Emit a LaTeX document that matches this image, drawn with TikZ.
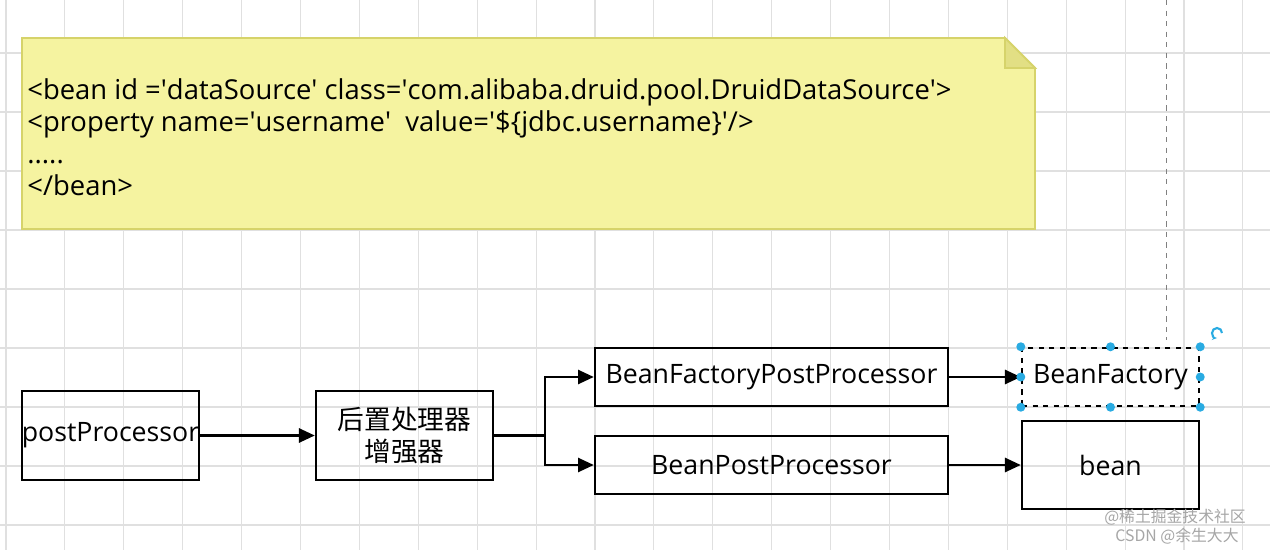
\documentclass[tikz,border=0pt]{standalone}
\usepackage{fontspec}
\setmainfont{Open Sans}
\newfontfamily\cjk{Noto Sans CJK SC}
\usetikzlibrary{arrows.meta}
\definecolor{notefill}{HTML}{F5F3A0}
\definecolor{notefold}{HTML}{E2DF84}
\definecolor{noteline}{HTML}{D6D36A}
\definecolor{gridcol}{HTML}{E0E0E0}
\definecolor{handleblue}{HTML}{29ABE2}
\newcommand\sq{\textquotesingle}

\begin{document}
\begin{tikzpicture}[x=0.02cm,y=-0.02cm,
  box/.style={draw,line width=1.4pt,inner sep=0pt,font=\fontsize{15.2}{18}\selectfont},
  flow/.style={line width=1.4pt,-{Triangle[length=9pt,width=8pt]}},
  handle/.style={fill=handleblue}]
  \useasboundingbox (0,0) rectangle (1270,550);
  \fill[white] (0,0) rectangle (1270,550);
  \foreach \gx in {0,...,21}
    \draw[gridcol,line width=0.6pt] (6+58.9*\gx,0) -- (6+58.9*\gx,550);
  \foreach \gy in {0,...,9}
    \draw[gridcol,line width=0.6pt] (0,53+59*\gy) -- (1270,53+59*\gy);
  \draw[gray,dashed,line width=0.5pt] (1166,0) -- (1166,340);

  \draw[noteline,fill=notefill,line width=1pt]
    (22,38) -- (1005,38) -- (1035,68) -- (1035,229) -- (22,229) -- cycle;
  \draw[noteline,fill=notefold,line width=1pt] (1005,38) -- (1005,68) -- (1035,68) -- cycle;
  \node[anchor=north west,align=left,inner sep=0pt,font=\fontsize{15.6}{18.2}\selectfont]
    (xml) at (27,78) {<bean id =\sq dataSource\sq{} class=\sq com.alibaba.druid.pool.DruidDataSource\sq>\\
    <property name=\sq username\sq\ \ value=\sq\$\{jdbc.username\}\sq/>\\
    .....\\
    </bean>};

  \node[box,minimum width=3.54cm,minimum height=1.78cm] (pp) at (110.5,435.5) {postProcessor};
  \node[box,minimum width=3.54cm,minimum height=1.78cm,align=center] (enh) at (404.5,435.5)
    {\cjk 后置处理器\\\cjk 增强器};
  \node[box,minimum width=7.06cm,minimum height=1.16cm] (bfpp) at (771.5,377) {BeanFactoryPostProcessor};
  \node[box,minimum width=7.06cm,minimum height=1.16cm] (bpp) at (771.5,465) {BeanPostProcessor};
  \node[box,dashed,minimum width=3.54cm,minimum height=1.16cm] (bf) at (1110.5,377) {BeanFactory};
  \node[box,minimum width=3.54cm,minimum height=1.76cm] (bean) at (1110.5,465) {bean};
  \coordinate (split) at (545,435.5);

  \draw[flow] (pp) -- (enh);
  \draw[line width=1.4pt] (enh.east) -- (split);
  \draw[flow] (split) |- (bfpp.west);
  \draw[flow] (split) |- (bpp.west);
  \draw[flow] (bfpp) -- (bf);
  \draw[flow] (bpp) -- (bean);

  \foreach \p in {north west,north,north east,west,east,south west,south,south east}
    \fill[handle] (bf.\p) circle (4.5);
  \draw[handleblue,line width=1.2pt,-{Stealth[length=3pt]}] (1222,333) arc (0:-270:5);

  \node[gray!70,inner sep=0pt,font=\cjk\fontsize{9}{10}\selectfont] (mark1) at (1175,517) {@稀土掘金技术社区};
  \node[gray!70,inner sep=0pt,font=\cjk\fontsize{9}{10}\selectfont] (mark2) at (1177,536) {CSDN @余生大大};
\end{tikzpicture}
\end{document}
